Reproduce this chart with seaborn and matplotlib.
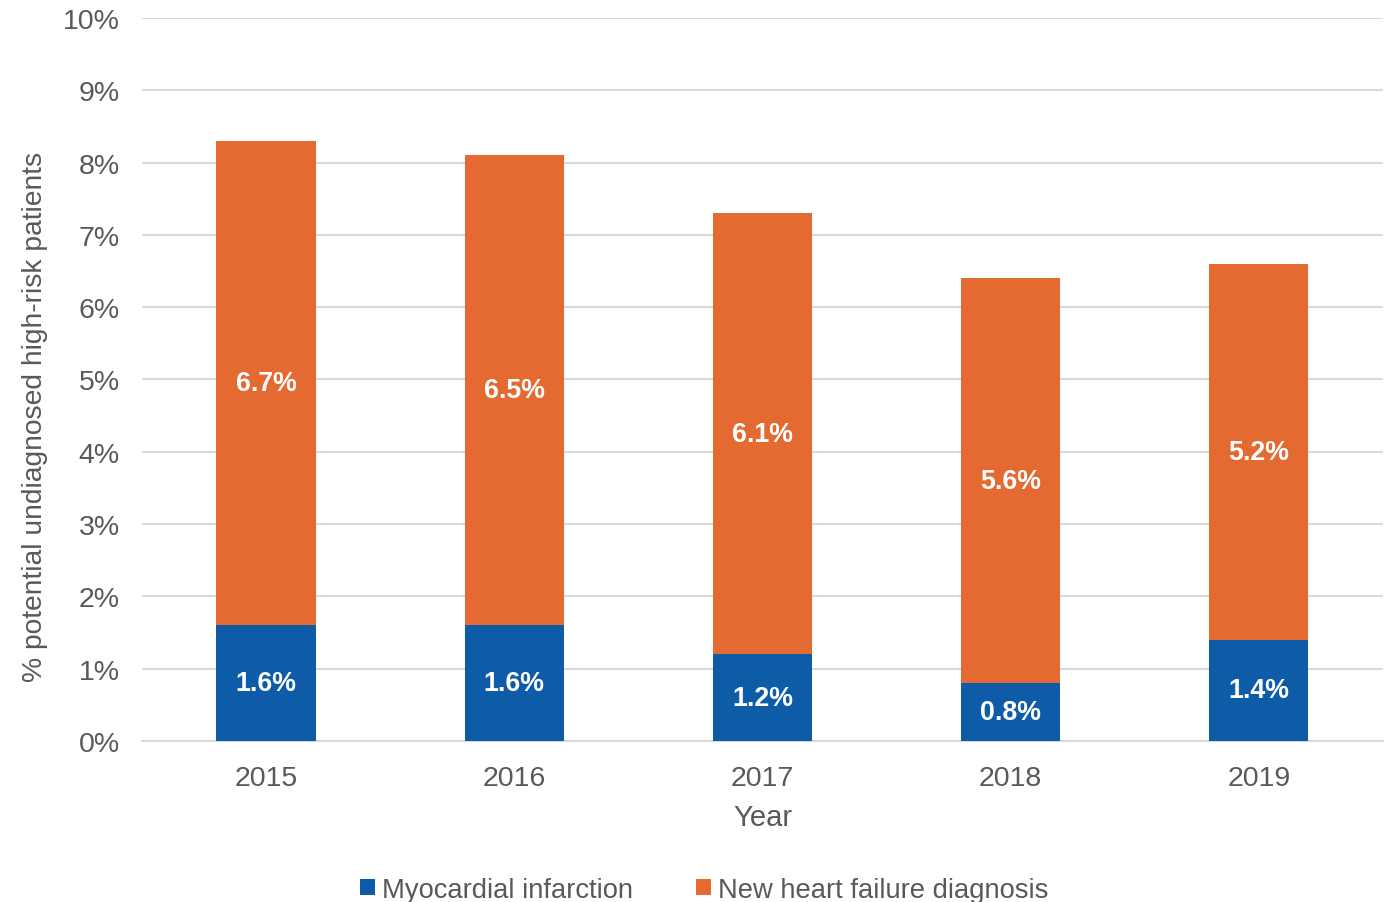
import matplotlib
matplotlib.use("Agg")
import matplotlib.pyplot as plt
from matplotlib.patches import Patch
from matplotlib.ticker import PercentFormatter
import seaborn as sns
import pandas as pd

years = ["2015", "2016", "2017", "2018", "2019"]
mi = [1.6, 1.6, 1.2, 0.8, 1.4]
hf = [6.7, 6.5, 6.1, 5.6, 5.2]
series_names = ["Myocardial infarction", "New heart failure diagnosis"]

BLUE = "#0E5CA8"
ORANGE = "#E46A31"
TEXT = "#595959"
GRID = "#D9D9D9"

sns.set_theme(style="white")
plt.rcParams["font.family"] = ["Liberation Sans", "DejaVu Sans"]

df = pd.DataFrame({"year": years, "mi": mi, "hf": hf})
df["total"] = df["mi"] + df["hf"]

fig = plt.figure(figsize=(13.91, 9.03), dpi=100)
ax = fig.add_axes([0.1021, 0.1783, 0.8921, 0.8007])

# stacked: full height in orange, then the blue base drawn over it
sns.barplot(data=df, x="year", y="total", color=ORANGE, saturation=1,
            width=0.4, ax=ax, zorder=3, linewidth=0)
sns.barplot(data=df, x="year", y="mi", color=BLUE, saturation=1,
            width=0.4, ax=ax, zorder=4, linewidth=0)

for i, (a, b) in enumerate(zip(mi, hf)):
    ax.text(i, a / 2, f"{a:.1f}%", ha="center", va="center", color="white",
            fontsize=19.3, fontweight="bold", zorder=5)
    ax.text(i, a + b / 2, f"{b:.1f}%", ha="center", va="center", color="white",
            fontsize=19.3, fontweight="bold", zorder=5)

ax.set_xlim(-0.5, 4.5)
ax.set_ylim(0, 10)
ax.set_yticks(range(0, 11))
ax.yaxis.set_major_formatter(PercentFormatter(decimals=0))
ax.grid(axis="y", color=GRID, linewidth=1.5, zorder=0)
ax.grid(axis="x", visible=False)
for side in ["top", "right", "left"]:
    ax.spines[side].set_visible(False)
ax.spines["bottom"].set_color(GRID)
ax.spines["bottom"].set_linewidth(1.5)
ax.tick_params(axis="both", length=0, labelsize=20.5, labelcolor=TEXT)
ax.tick_params(axis="y", pad=16)
ax.tick_params(axis="x", pad=17)

ax.set_xlabel("Year", fontsize=21, color=TEXT, labelpad=9)
ax.set_ylabel("% potential undiagnosed high-risk patients", fontsize=20.3,
              color=TEXT, labelpad=11)
ax.yaxis.label.set_y(0.45)

handles = [Patch(facecolor=BLUE, edgecolor="none"),
           Patch(facecolor=ORANGE, edgecolor="none")]
leg = fig.legend(handles, series_names, loc="lower center",
                 bbox_to_anchor=(0.506, -0.028), ncol=2, frameon=False,
                 fontsize=19.7, handlelength=0.55, handleheight=0.55,
                 handletextpad=0.25, columnspacing=2.3)
for t in leg.get_texts():
    t.set_color(TEXT)

fig.savefig("out.png", dpi=100)
